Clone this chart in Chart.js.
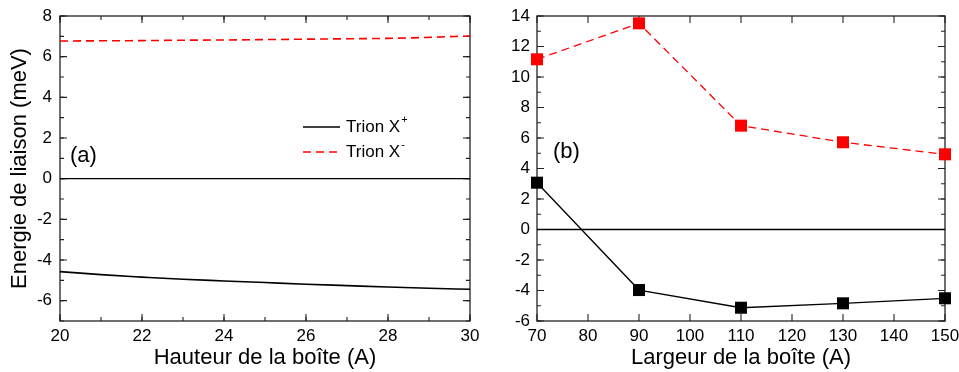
<!DOCTYPE html>
<html>
<head>
<meta charset="utf-8">
<script src="https://cdn.jsdelivr.net/npm/chart.js@4.4.1/dist/chart.umd.min.js"></script>
<style>
  html, body { margin: 0; padding: 0; background: #fff; }
  #wrap { position: relative; width: 959px; height: 372px; }
  #wrap canvas { position: absolute; top: 0; }
</style>
</head>
<body>
<div id="wrap">
  <canvas id="chartA" width="480" height="372" style="left:0"></canvas>
  <canvas id="chartB" width="479" height="372" style="left:480px"></canvas>
</div>
<script>
// panel (a) : hauteur de la boîte
const heightA = [20, 21, 22, 23, 24, 25, 26, 27, 28, 29, 30];
const trionPlusA = [-4.57, -4.72, -4.84, -4.95, -5.03, -5.11, -5.19, -5.26, -5.33, -5.39, -5.44];
const trionMinusA = [6.77, 6.78, 6.79, 6.81, 6.82, 6.84, 6.86, 6.88, 6.9, 6.95, 7.02];
const xTicksA = [20, 22, 24, 26, 28, 30];
const yTicksA = [-6, -4, -2, 0, 2, 4, 6, 8];

// panel (b) : largeur de la boîte
const widthB = [70, 90, 110, 130, 150];
const trionPlusB = [3.07, -3.97, -5.13, -4.84, -4.51];
const trionMinusB = [11.16, 13.52, 6.81, 5.72, 4.93];
const xTicksB = [70, 80, 90, 100, 110, 120, 130, 140, 150];
const yTicksB = [-6, -4, -2, 0, 2, 4, 6, 8, 10, 12, 14];

const FONT = '"Liberation Sans", Arial, sans-serif';
const pts = (xs, ys) => xs.map((x, i) => ({ x: x, y: ys[i] }));

// cadre + graduations tournées vers l'intérieur
const frameTicks = {
  id: 'frameTicks',
  beforeDatasetsDraw(chart, args, opts) {
    const { ctx, chartArea: a, scales: { x, y } } = chart;
    ctx.save();
    ctx.strokeStyle = '#222';
    ctx.lineWidth = 1.3;
    ctx.strokeRect(a.left, a.top, a.right - a.left, a.bottom - a.top);
    ctx.lineWidth = 1.1;
    const mark = (scale, v, len) => {
      const p = scale.getPixelForValue(v);
      ctx.beginPath();
      if (scale.isHorizontal()) {
        ctx.moveTo(p, a.bottom); ctx.lineTo(p, a.bottom - len);
        ctx.moveTo(p, a.top); ctx.lineTo(p, a.top + len);
      } else {
        ctx.moveTo(a.left, p); ctx.lineTo(a.left + len, p);
        ctx.moveTo(a.right, p); ctx.lineTo(a.right - len, p);
      }
      ctx.stroke();
    };
    [[x, opts.xMinor], [y, opts.yMinor]].forEach(([scale, minor]) => {
      if (minor) {
        const n = Math.round((scale.max - scale.min) / minor);
        for (let i = 0; i <= n; i++) mark(scale, scale.min + i * minor, 4);
      }
      scale.ticks.forEach(t => mark(scale, t.value, 7));
    });
    ctx.restore();
  }
};

// étiquette (a)/(b) et légende avec exposants
const annotations = {
  id: 'annotations',
  afterDraw(chart, args, opts) {
    const { ctx } = chart;
    ctx.save();
    ctx.fillStyle = '#000';
    ctx.textBaseline = 'middle';
    ctx.font = '22px ' + FONT;
    ctx.fillText(opts.panel, opts.panelX, opts.panelY);
    if (opts.legend) {
      opts.legend.forEach((item, i) => {
        const ds = chart.data.datasets[item.index];
        const ly = opts.legendY + i * 25;
        ctx.beginPath();
        ctx.strokeStyle = ds.borderColor;
        ctx.lineWidth = 1.6;
        ctx.setLineDash(ds.borderDash || []);
        ctx.moveTo(opts.legendX, ly);
        ctx.lineTo(opts.legendX + 37, ly);
        ctx.stroke();
        ctx.setLineDash([]);
        ctx.font = '17px ' + FONT;
        ctx.fillText(ds.label, opts.legendX + 43, ly);
        const w = ctx.measureText(ds.label).width;
        ctx.font = '11px ' + FONT;
        ctx.fillText(item.sup, opts.legendX + 43 + w + 1, ly - 7);
      });
    }
    ctx.restore();
  }
};

function makeOptions(cfg) {
  return {
    responsive: false,
    animation: false,
    layout: { padding: { top: 16, right: cfg.rightPad, left: 0, bottom: 0 } },
    plugins: {
      legend: { display: false },
      tooltip: { enabled: false },
      frameTicks: { xMinor: cfg.xMinor, yMinor: cfg.yMinor },
      annotations: cfg.annot
    },
    scales: {
      x: {
        type: 'linear',
        min: cfg.xMin, max: cfg.xMax,
        afterBuildTicks: s => { s.ticks = cfg.xTicks.map(v => ({ value: v })); },
        afterFit: s => { s.height = 51; s.paddingLeft = 0; s.paddingRight = 0; },
        grid: { display: false, drawTicks: false },
        border: { display: false },
        ticks: { color: '#000', padding: 5, maxRotation: 0, autoSkip: false,
                 font: { family: FONT, size: 17 } },
        title: { display: true, text: cfg.xTitle, color: '#000', padding: { top: 0, bottom: 1 },
                 font: { family: FONT, size: 22 } }
      },
      y: {
        type: 'linear',
        min: cfg.yMin, max: cfg.yMax,
        afterBuildTicks: s => { s.ticks = cfg.yTicks.map(v => ({ value: v })); },
        afterFit: s => { s.width = cfg.yWidth; s.paddingTop = 0; s.paddingBottom = 0; },
        grid: { display: false, drawTicks: false },
        border: { display: false },
        ticks: { color: '#000', padding: cfg.yPad, autoSkip: false, font: { family: FONT, size: 17 } },
        title: { display: !!cfg.yTitle, text: cfg.yTitle, color: '#000', padding: { top: 7, bottom: 0 },
                 font: { family: FONT, size: 22 } }
      }
    }
  };
}

new Chart(document.getElementById('chartA'), {
  type: 'line',
  data: {
    datasets: [
      { label: 'Trion X', data: pts(heightA, trionPlusA), borderColor: '#000', borderWidth: 1.6,
        pointRadius: 0, cubicInterpolationMode: 'monotone' },
      { label: 'Trion X', data: pts(heightA, trionMinusA), borderColor: '#ff0000', borderWidth: 1.6,
        borderDash: [8, 5], pointRadius: 0, cubicInterpolationMode: 'monotone' },
      { label: 'zero', data: pts([heightA[0], heightA[heightA.length - 1]], [0, 0]),
        borderColor: '#000', borderWidth: 1.3, pointRadius: 0 }
    ]
  },
  options: makeOptions({
    xMin: 20, xMax: 30, yMin: -7, yMax: 8, xTicks: xTicksA, yTicks: yTicksA,
    xMinor: 1, yMinor: 1, yWidth: 60, yPad: 8, rightPad: 10,
    xTitle: 'Hauteur de la boîte (A)', yTitle: 'Energie de liaison (meV)',
    annot: { panel: '(a)', panelX: 70, panelY: 156, legendX: 303, legendY: 127,
             legend: [{ index: 0, sup: '+' }, { index: 1, sup: '-' }] }
  }),
  plugins: [frameTicks, annotations]
});

new Chart(document.getElementById('chartB'), {
  type: 'line',
  data: {
    datasets: [
      { label: 'zero', data: pts([widthB[0], widthB[widthB.length - 1]], [0, 0]),
        borderColor: '#000', borderWidth: 1.3, pointRadius: 0 },
      { label: 'Trion X+', data: pts(widthB, trionPlusB), borderColor: '#000', borderWidth: 1.3,
        pointStyle: 'rect', pointRadius: 8.5, pointBackgroundColor: '#000', pointBorderWidth: 0,
        tension: 0, clip: false },
      { label: 'Trion X-', data: pts(widthB, trionMinusB), borderColor: '#ff0000', borderWidth: 1.3,
        borderDash: [8, 5], pointStyle: 'rect', pointRadius: 8.5, pointBackgroundColor: '#ff0000',
        pointBorderWidth: 0, tension: 0, clip: false }
    ]
  },
  options: makeOptions({
    xMin: 70, xMax: 150, yMin: -6, yMax: 14, xTicks: xTicksB, yTicks: yTicksB,
    xMinor: 0, yMinor: 1, yWidth: 57, yPad: 7, rightPad: 14,
    xTitle: 'Largeur de la boîte (A)', yTitle: '',
    annot: { panel: '(b)', panelX: 73, panelY: 152 }
  }),
  plugins: [frameTicks, annotations]
});
</script>
</body>
</html>
